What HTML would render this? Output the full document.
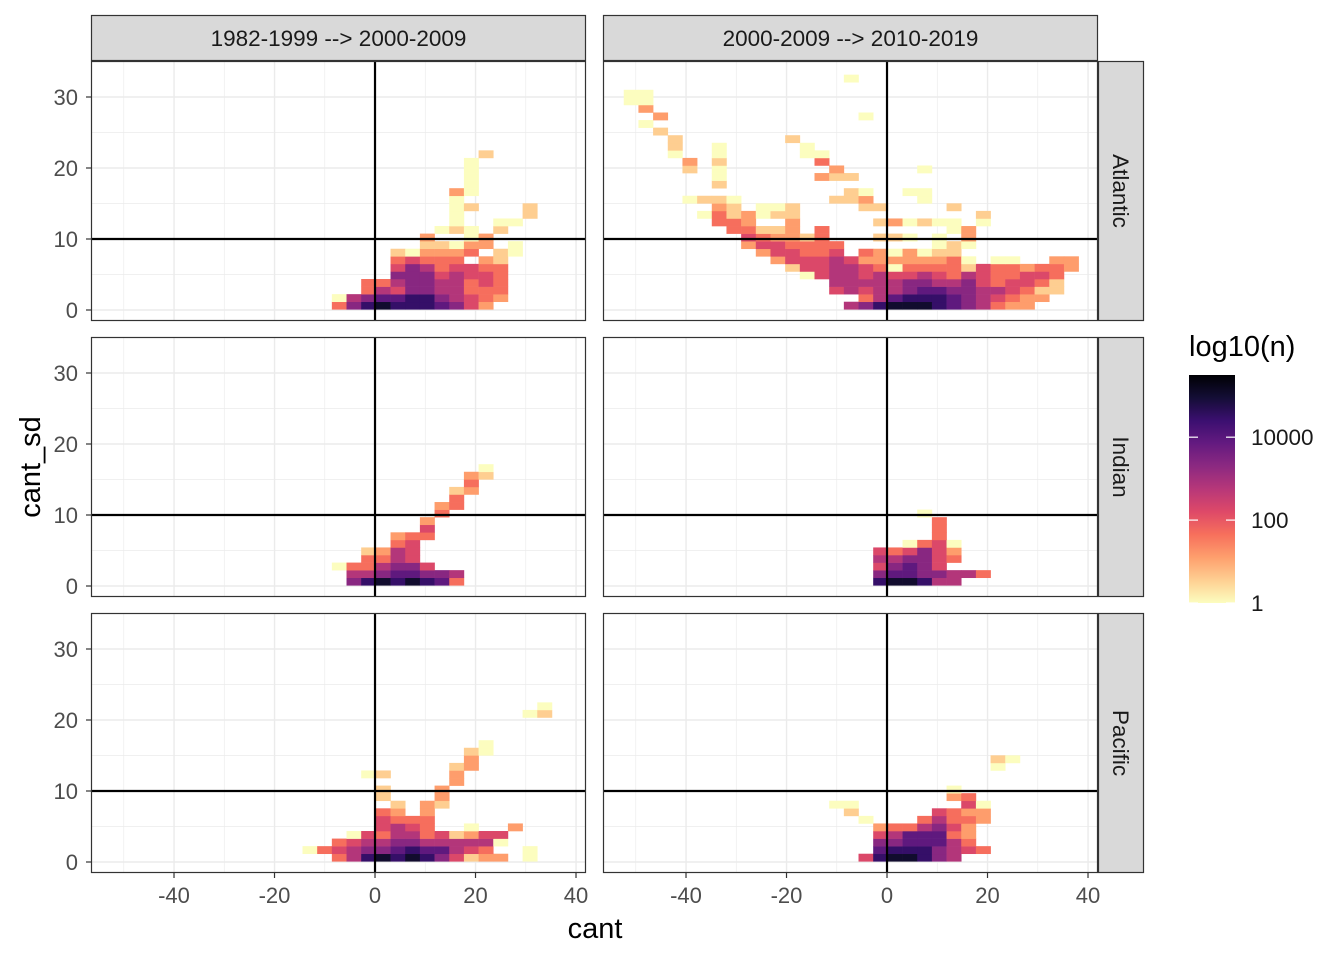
<!DOCTYPE html>
<html><head><meta charset="utf-8"><style>
html,body{margin:0;padding:0;background:#fff}
svg{display:block}
text{font-family:"Liberation Sans",Arial,sans-serif}
</style></head><body>
<svg id="chart" width="1344" height="960" viewBox="0 0 1344 960" xmlns="http://www.w3.org/2000/svg">
<defs>
<linearGradient id="magma" x1="0" y1="1" x2="0" y2="0">
<stop offset="0" stop-color="#fcfdbf"/><stop offset="0.1" stop-color="#fecf92"/><stop offset="0.2" stop-color="#fe9f6d"/><stop offset="0.3" stop-color="#f7705c"/><stop offset="0.4" stop-color="#de4968"/><stop offset="0.5" stop-color="#b73779"/><stop offset="0.6" stop-color="#8c2981"/><stop offset="0.7" stop-color="#641a80"/><stop offset="0.8" stop-color="#3b0f70"/><stop offset="0.9" stop-color="#140e36"/><stop offset="1" stop-color="#000004"/>
</linearGradient>
</defs>
<g id="layer"></g>
</svg>
<script>
// ---- data (bin rows: [sd bin index, first cant bin index, levels string; '.' = empty, digit d => log10(n) = d*levelStep])
const colLabels = ["1982-1999 --> 2000-2009", "2000-2009 --> 2010-2019"];
const rowLabels = ["Atlantic", "Indian", "Pacific"];
const xTicks = [-40, -20, 0, 20, 40];
const xMinor = [-50, -30, -10, 10, 30];
const yTicks = [0, 10, 20, 30];
const yMinor = [5, 15, 25];
const legendTicks = [0, 2, 4];
const legendLabels = ["1", "100", "10000"];
const binW = 2.92, binH = 1.066, binX0 = -2.75, binY0 = 0.1, levelStep = 0.56;
const atlA = [[0,-2,"36898887642"],[1,-2,"056778865432"],[2,0,"3546655333"],[3,0,"3356655343"],[4,2,"66645443"],[5,2,"46534433"],[6,2,"34333.21"],[7,2,"102223.10"],[8,4,"11022.0"],[9,4,"2..02"],[10,5,"010.1"],[11,6,"0..00"],[12,6,"0....1"],[13,6,"01...1"],[14,6,"0"],[15,6,"20"],[16,7,"0"],[17,7,"0"],[18,7,"0"],[19,7,"0"],[20,8,"1"]];
const atlB = [[0,-2,"5689998765322"],[1,-1,"3578887654322"],[2,-3,"4545567766554311"],[3,-3,"5555566556434431"],[4,-5,"045545445435433443"],[5,-6,"14455430333314332332"],[6,-7,"24445422222230.00..22"],[7,-8,"244334.3202011"],[8,-9,"2443333......010"],[9,-9,"432213...110.0.2"],[10,-10,"33112.3........02"],[11,-11,"332..2.....120100.0"],[12,-12,"0312011............1"],[13,-11,"21.001....11....1"],[14,-13,"0110......112...0"],[15,-2,"10..00"],[16,-11,"1"],[17,-11,"0......211"],[18,-13,"1.0.......2.....0"],[19,-13,"2.1......3"],[20,-14,"0..0.....00"],[21,-14,"1..0.....0"],[22,-14,"1.......1"],[23,-15,"1"],[24,-16,"0"],[25,-15,"2.............0"],[26,-16,"2"],[27,-17,"00"],[28,-17,"00"],[30,-2,"0"]];
const indA = [[0,-1,"68989873"],[1,-1,"55677665"],[2,-2,"0335664"],[3,0,"3354"],[4,0,"1254"],[5,2,"34"],[6,2,"233"],[7,4,"4"],[8,4,"2"],[9,5,"3"],[10,5,"23"],[11,6,"3"],[12,6,"12"],[13,7,"3"],[14,7,"21"],[15,8,"0"]];
const indB = [[0,0,"899855"],[1,0,"67766553"],[2,0,"46764"],[3,0,"556643"],[4,0,"434642"],[5,2,"0340"],[6,4,"3"],[7,4,"3"],[8,4,"3"],[9,3,"0"]];
const pacA = [[0,-2,"358989864122.0"],[1,-4,"0345667877543..0"],[2,-2,"345566555550"],[3,-1,"04355341244"],[4,1,"4543..0..2"],[5,1,"4333"],[6,1,"32.2"],[7,2,"1.21"],[8,1,"1...2"],[9,1,"1...2"],[10,6,"2"],[11,0,"01....2"],[12,6,"12"],[13,7,"2"],[14,7,"10"],[15,8,"0"],[19,11,"01"],[20,12,"0"]];
const pacB = [[0,-1,"4899865"],[1,0,"78886543"],[2,0,"6677753"],[3,0,"4577732"],[4,0,"2335642"],[5,-1,"0...35332"],[6,-2,"1.....4322"],[7,-3,"00.......40"],[8,5,"23"],[9,5,"0"],[12,8,"0"],[13,8,"10"]];
const panelData = [[atlA, atlB], [indA, indB], [pacA, pacB]];

// ---- layout
const NS = "http://www.w3.org/2000/svg";
const layer = document.getElementById("layer");
const colLeft = [91, 603], panelW = 495;
const rowTop = [61, 337, 613], panelH = 260;
const xMin = -56.52, pxPerX = 5.025;
const yMaxV = 35.07, pxPerY = 7.1;
function xs(c, v) { return colLeft[c] + (v - xMin) * pxPerX; }
function ys(r, v) { return rowTop[r] + (yMaxV - v) * pxPerY; }
const magma = ["#000004","#140e36","#3b0f70","#641a80","#8c2981","#b73779","#de4968","#f7705c","#fe9f6d","#fecf92","#fcfdbf"];
function hex(h){return [1,3,5].map(k=>parseInt(h.substr(k,2),16));}
function colorFor(logv) {
  let t = Math.max(0, Math.min(1, 1 - logv / 5.5)) * 10;
  const k = Math.min(9, Math.floor(t)), f = t - k;
  const a = hex(magma[k]), b = hex(magma[k + 1]);
  return "rgb(" + a.map((v, q) => Math.round(v + (b[q] - v) * f)).join(",") + ")";
}
function mk(tag, attrs, parent) {
  const e = document.createElementNS(NS, tag);
  for (const k in attrs) e.setAttribute(k, attrs[k]);
  (parent || layer).appendChild(e);
  return e;
}

for (let r = 0; r < 3; r++) {
  for (let c = 0; c < 2; c++) {
    const g = mk("g", {});
    
    
    const L = colLeft[c], T = rowTop[r];
    mk("rect", {x: L, y: T, width: panelW, height: panelH, fill: "#fff"}, g);
    xMinor.forEach(v => mk("line", {x1: xs(c, v), x2: xs(c, v), y1: T, y2: T + panelH, stroke: "#ebebeb", "stroke-width": 0.7}, g));
    yMinor.forEach(v => mk("line", {x1: L, x2: L + panelW, y1: ys(r, v), y2: ys(r, v), stroke: "#ebebeb", "stroke-width": 0.7}, g));
    xTicks.forEach(v => mk("line", {x1: xs(c, v), x2: xs(c, v), y1: T, y2: T + panelH, stroke: "#ebebeb", "stroke-width": 1.4}, g));
    yTicks.forEach(v => mk("line", {x1: L, x2: L + panelW, y1: ys(r, v), y2: ys(r, v), stroke: "#ebebeb", "stroke-width": 1.4}, g));
    panelData[r][c].forEach(row => {
      const j = row[0], i0 = row[1], s = row[2];
      for (let q = 0; q < s.length; q++) {
        if (s[q] === ".") continue;
        const logv = parseInt(s[q]) * levelStep;
        const cx0 = binX0 + (i0 + q) * binW, sy0 = binY0 + j * binH;
        const x1 = xs(c, cx0), x2 = xs(c, cx0 + binW), y1 = ys(r, sy0 + binH), y2 = ys(r, sy0);
        const t = mk("rect", {x: x1.toFixed(2), y: y1.toFixed(2), width: (x2 - x1 + 0.3).toFixed(2), height: (y2 - y1 + 0.3).toFixed(2), fill: colorFor(logv)}, g);
        
        
      }
    });
    const vz = mk("line", {x1: xs(c, 0), x2: xs(c, 0), y1: T, y2: T + panelH, stroke: "#000", "stroke-width": 2.2}, g);
    
    
    const hz = mk("line", {x1: L, x2: L + panelW, y1: ys(r, 10), y2: ys(r, 10), stroke: "#000", "stroke-width": 2.2}, g);
    
    
    mk("rect", {x: L + 0.5, y: T + 0.5, width: panelW - 1, height: panelH - 1, fill: "none", stroke: "#333", "stroke-width": 1.2}, g);
    if (c === 0) {
      yTicks.forEach((v, k) => {
        mk("line", {x1: L - 5, x2: L, y1: ys(r, v), y2: ys(r, v), stroke: "#333", "stroke-width": 1.2});
        const tl = mk("text", {x: L - 13, y: ys(r, v) + 8, "text-anchor": "end", "font-size": 22, fill: "#4d4d4d"});
        tl.textContent = String(v);
        
        
      });
    }
    if (r === 2) {
      xTicks.forEach(v => {
        mk("line", {x1: xs(c, v), x2: xs(c, v), y1: T + panelH, y2: T + panelH + 5, stroke: "#333", "stroke-width": 1.2});
        const tl = mk("text", {x: xs(c, v), y: T + panelH + 30, "text-anchor": "middle", "font-size": 22, fill: "#4d4d4d"});
        tl.textContent = String(v);
        
        
      });
    }
  }
}
colLabels.forEach((lab, c) => {
  const s = mk("rect", {x: colLeft[c] + 0.5, y: 15.5, width: panelW - 1, height: 45, fill: "#d9d9d9", stroke: "#333", "stroke-width": 1.2});
  
  
  const t = mk("text", {x: colLeft[c] + panelW / 2, y: 46, "text-anchor": "middle", "font-size": 22.5, fill: "#1a1a1a"});
  t.textContent = lab;
  
  
});
rowLabels.forEach((lab, r) => {
  const s = mk("rect", {x: 1098.5, y: rowTop[r] + 0.5, width: 45, height: panelH - 1, fill: "#d9d9d9", stroke: "#333", "stroke-width": 1.2});
  
  
  const cy = rowTop[r] + panelH / 2;
  const t = mk("text", {x: 1113, y: cy, "text-anchor": "middle", "font-size": 22.5, fill: "#1a1a1a", transform: "rotate(90 1113 " + cy + ")"});
  t.textContent = lab;
  
  
});
const xt = mk("text", {x: 595, y: 938, "text-anchor": "middle", "font-size": 29, fill: "#000"});
xt.textContent = "cant";


const yt = mk("text", {x: 40, y: 467, "text-anchor": "middle", "font-size": 29, fill: "#000", transform: "rotate(-90 40 467)"});
yt.textContent = "cant_sd";


const lt = mk("text", {x: 1189, y: 356, "font-size": 29, fill: "#000"});
lt.textContent = "log10(n)";


const barTop = 375, barBot = 603, barL = 1189, barW = 46;
const bar = mk("rect", {x: barL, y: barTop, width: barW, height: barBot - barTop, fill: "url(#magma)"});


legendTicks.forEach((v, k) => {
  const y = barBot - v / 5.5 * (barBot - barTop);
  mk("line", {x1: barL, x2: barL + 9, y1: y, y2: y, stroke: "#fff", "stroke-width": 1.2});
  mk("line", {x1: barL + barW - 9, x2: barL + barW, y1: y, y2: y, stroke: "#fff", "stroke-width": 1.2});
  const t = mk("text", {x: 1251, y: y + 8, "font-size": 22.5, fill: "#1a1a1a"});
  t.textContent = legendLabels[k];
  
  
});
</script>
</body></html>
